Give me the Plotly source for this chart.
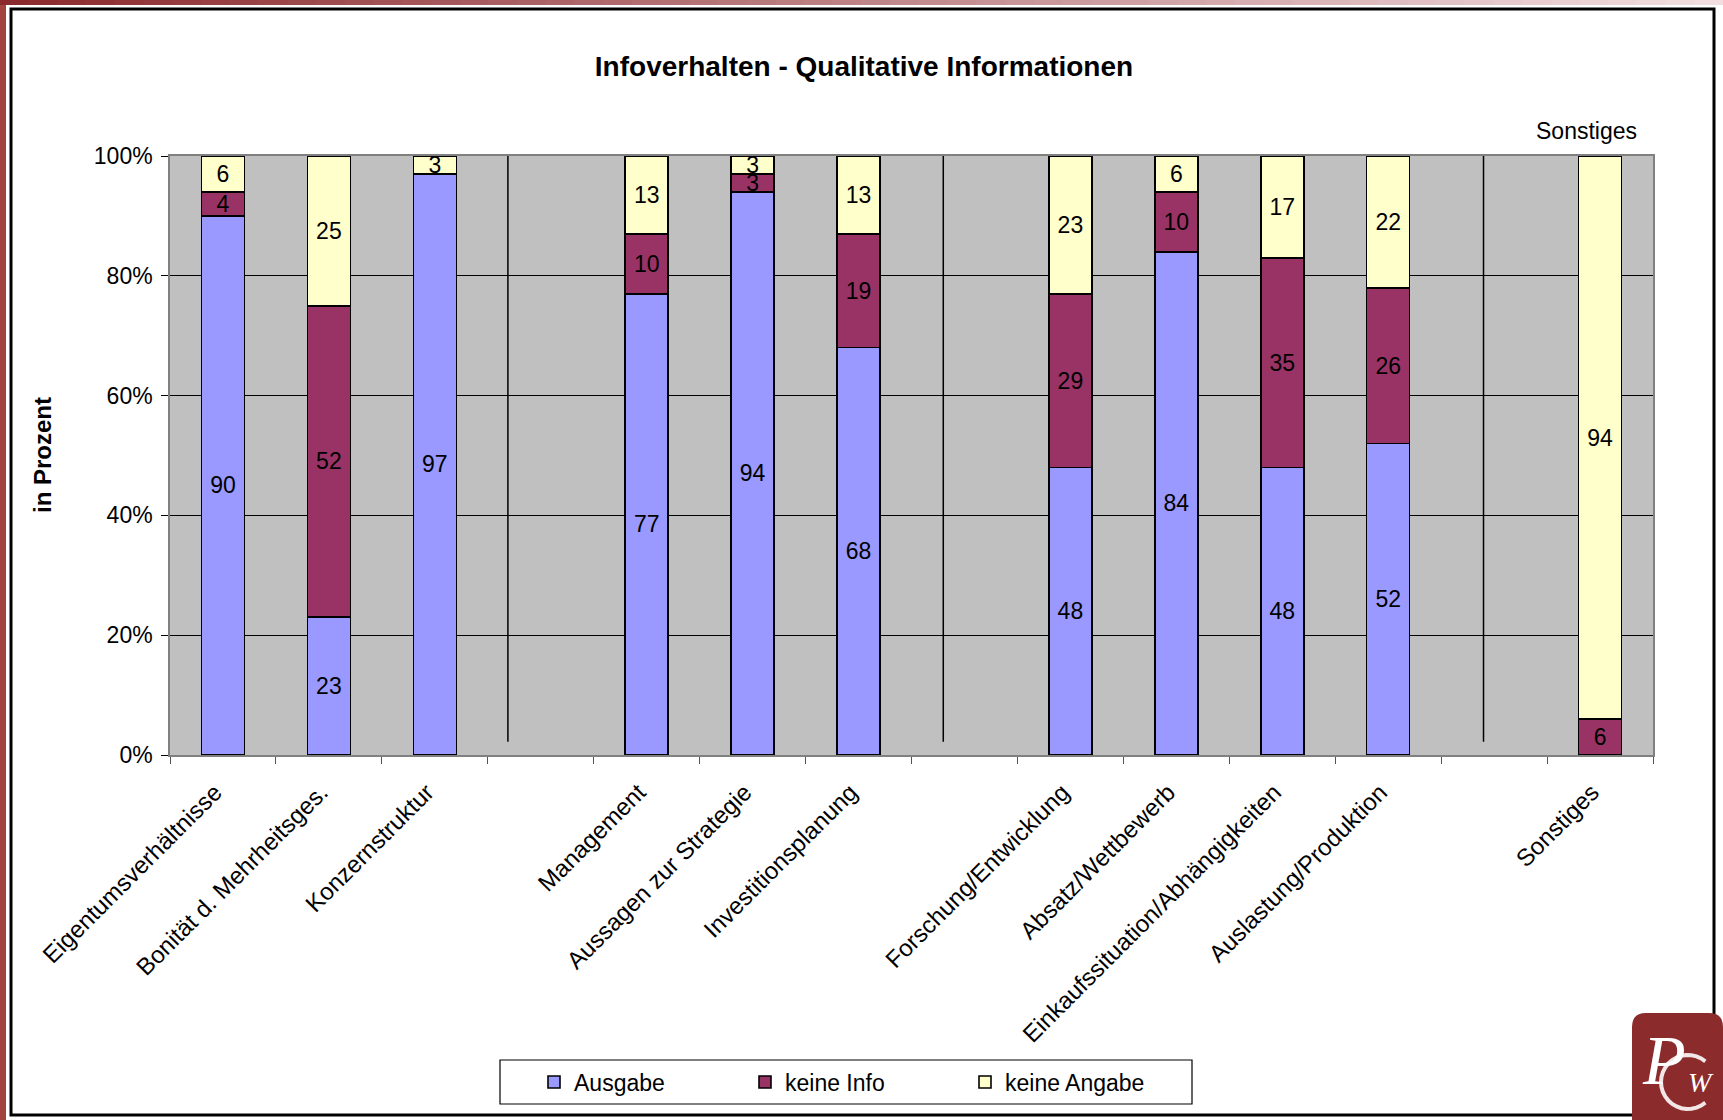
import math
import plotly.graph_objects as go

# ---- data -------------------------------------------------------------
categories = [
    "Eigentumsverhältnisse", "Bonität d. Mehrheitsges.", "Konzernstruktur", " ",
    "Management", "Aussagen zur Strategie", "Investitionsplanung", "  ",
    "Forschung/Entwicklung", "Absatz/Wettbewerb", "Einkaufssituation/Abhängigkeiten",
    "Auslastung/Produktion", "   ", "Sonstiges",
]
ausgabe = [90, 23, 97, None, 77, 94, 68, None, 48, 84, 48, 52, None, 0]
keine_info = [4, 52, 0, None, 10, 3, 19, None, 29, 10, 35, 26, None, 6]
keine_angabe = [6, 25, 3, None, 13, 3, 13, None, 23, 6, 17, 22, None, 94]

series_names = ["Ausgabe", "keine Info", "keine Angabe"]
series_colors = ["#9999FF", "#993366", "#FFFFCC"]
y_ticks = [0, 20, 40, 60, 80, 100]
y_tick_labels = ["0%", "20%", "40%", "60%", "80%", "100%"]

# group separators (category-index positions)
separators = [2.69, 6.80, 11.90]

# ---- page geometry ----------------------------------------------------
W, H = 1723, 1120
L, R, T, B = 170, 1653, 156, 755          # plot area in pixels
PW, PH = R - L, B - T

def px(x):
    return (x - L) / PW

def py(y):
    return (B - y) / PH

FONT = "Arial, Liberation Sans, sans-serif"
SERIF = "Liberation Serif, serif"

fig = go.Figure()
legend_ids = ["legend", "legend2", "legend3"]
for name, vals, color, lg in zip(series_names, [ausgabe, keine_info, keine_angabe],
                                 series_colors, legend_ids):
    fig.add_trace(go.Bar(
        x=categories, y=vals, name=name,
        marker=dict(color=color, line=dict(color="black", width=1.6)),
        text=[str(v) if v else "" for v in vals],
        textposition="inside", insidetextanchor="middle", textangle=0,
        textfont=dict(family=FONT, size=23, color="black"),
        hoverinfo="skip", legend=lg,
    ))

shapes = []
# group separator lines
for s in separators:
    shapes.append(dict(type="line", xref="x", yref="y", x0=s, x1=s, y0=2.2, y1=100.9,
                       line=dict(color="black", width=1.5)))

# outer frame
shapes.append(dict(type="rect", xref="paper", yref="paper",
                   x0=px(11), x1=px(1714), y0=py(1115), y1=py(9),
                   line=dict(color="black", width=3), layer="above"))
# left strip
shapes.append(dict(type="rect", xref="paper", yref="paper",
                   x0=px(0), x1=px(6), y0=py(1120), y1=py(0),
                   fillcolor="#A2433F", line=dict(width=0)))
# top gradient strip
n = 60
c0, c1 = (139, 42, 46), (242, 222, 224)
for i in range(n):
    t = i / (n - 1)
    col = tuple(int(round(a + (b - a) * t)) for a, b in zip(c0, c1))
    shapes.append(dict(type="rect", xref="paper", yref="paper",
                       x0=px(W * i / n), x1=px(W * (i + 1) / n + 1),
                       y0=py(5), y1=py(0),
                       fillcolor="rgb(%d,%d,%d)" % col, line=dict(width=0)))
# legend frame
shapes.append(dict(type="rect", xref="paper", yref="paper",
                   x0=px(500), x1=px(1192), y0=py(1104), y1=py(1060),
                   line=dict(color="black", width=1.2), fillcolor="white", layer="below"))
# logo badge
lx0, lx1, ly0, ly1, r = 1632, 1723, 1013, 1120, 14
path = (f"M {px(lx0)},{py(ly1)} L {px(lx0)},{py(ly0 + r)} "
        f"Q {px(lx0)},{py(ly0)} {px(lx0 + r)},{py(ly0)} "
        f"L {px(lx1 - r)},{py(ly0)} Q {px(lx1)},{py(ly0)} {px(lx1)},{py(ly0 + r)} "
        f"L {px(lx1)},{py(ly1)} Z")
shapes.append(dict(type="path", xref="paper", yref="paper", path=path,
                   fillcolor="#8C2B2B", line=dict(width=0), layer="above"))
# the "C" of the monogram as an open arc
cx, cy, cr = 1688, 1082, 27
pts = []
for k in range(25):
    a = math.radians(50 + 260 * k / 24)
    pts.append((px(cx + cr * math.cos(a)), py(cy - cr * math.sin(a))))
arc = "M " + " L ".join(f"{a},{b}" for a, b in pts)
shapes.append(dict(type="path", xref="paper", yref="paper", path=arc,
                   line=dict(color="#F3E6E6", width=4), layer="above"))

def note(text, x, y, size, family=FONT, color="black", angle=0):
    return dict(text=text, x=px(x), y=py(y), xref="paper", yref="paper",
                xanchor="center", yanchor="middle", textangle=angle, showarrow=False,
                font=dict(family=family, size=size, color=color))

annotations = [
    note("<b>in Prozent</b>", 42, 455, 24, angle=-90),
    note("Sonstiges", 1586, 131, 23),
    # monogram letters on the badge
    note("<i>P</i>", 1664, 1060, 70, family=SERIF, color="white"),
    note("<i>W</i>", 1701, 1082, 28, family=SERIF, color="white"),
]

legend_common = dict(orientation="h", xref="paper", yref="paper", yanchor="middle",
                     bgcolor="rgba(0,0,0,0)", borderwidth=0,
                     font=dict(family=FONT, size=23, color="black"))
leg_x = [534, 745, 965]

fig.update_layout(
    width=W, height=H,
    margin=dict(l=L, r=W - R, t=T, b=H - B, autoexpand=False),
    paper_bgcolor="white", plot_bgcolor="#C0C0C0",
    barmode="stack", bargap=0.594,
    showlegend=True,
    title=dict(text="<b>Infoverhalten - Qualitative Informationen</b>",
               x=864 / W, xref="container", xanchor="center",
               y=1 - 66 / H, yref="container", yanchor="middle",
               font=dict(family=FONT, size=28, color="black")),
    legend=dict(x=px(leg_x[0]), y=py(1082), **legend_common),
    legend2=dict(x=px(leg_x[1]), y=py(1082), **legend_common),
    legend3=dict(x=px(leg_x[2]), y=py(1082), **legend_common),
    xaxis=dict(type="category", categoryorder="array", categoryarray=categories,
               range=[-0.5, len(categories) - 0.5],
               showline=True, linecolor="#808080", linewidth=1.5, mirror=True,
               ticks="outside", tickson="boundaries", ticklen=7, tickcolor="#555555",
               tickwidth=1.2, tickangle=-45, showgrid=False,
               ticklabelstandoff=12, ticklabelshift=-8,
               tickfont=dict(family=FONT, size=24, color="black")),
    yaxis=dict(range=[0, 100], tickvals=y_ticks, ticktext=y_tick_labels,
               showline=True, linecolor="#808080", linewidth=1.5, mirror=True,
               ticks="outside", ticklen=7, tickcolor="black", tickwidth=1.2,
               showgrid=True, gridcolor="black", gridwidth=1, zeroline=False,
               ticklabelstandoff=4,
               tickfont=dict(family=FONT, size=23, color="black")),
    uniformtext=dict(minsize=23, mode="show"),
    shapes=shapes, annotations=annotations,
)

fig.write_html("out.html", config={"displayModeBar": False})
